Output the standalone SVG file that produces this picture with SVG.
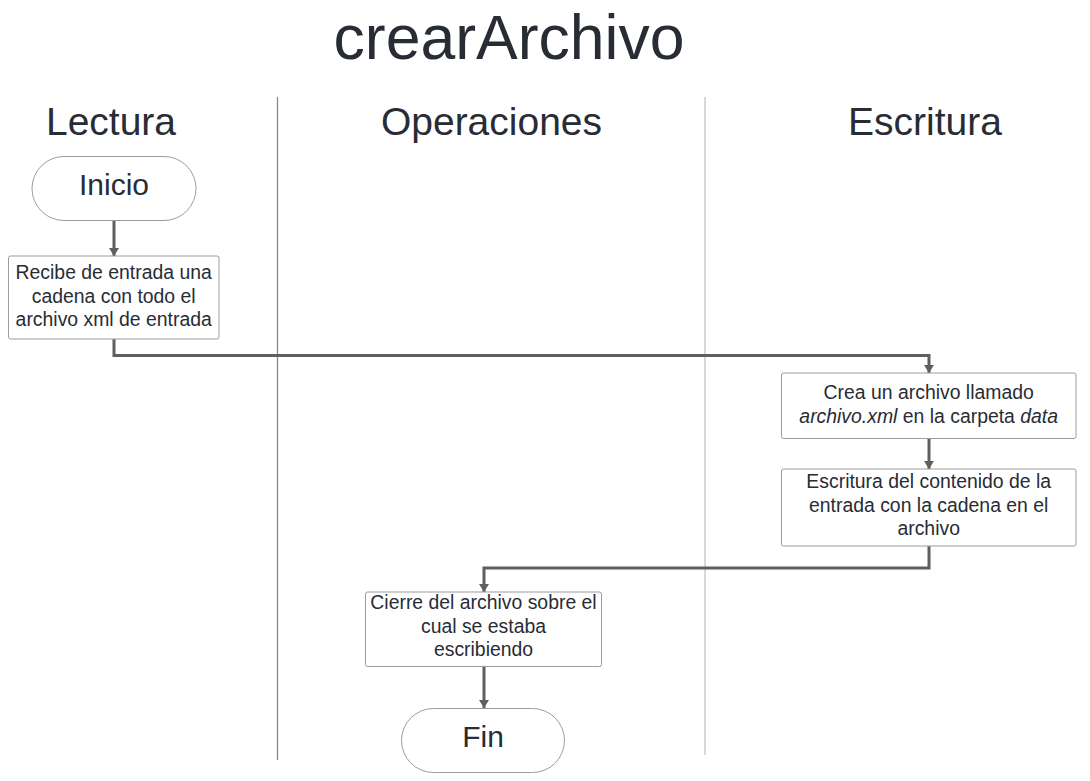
<svg xmlns="http://www.w3.org/2000/svg" width="1090" height="781" viewBox="0 0 1090 781">
<style>
text{font-family:"Liberation Sans",Arial,sans-serif;fill:#282c35;text-anchor:middle}
.title{font-size:62.5px}
.lane{font-size:39px}
.term{font-size:30px}
.body{font-size:19.4px}
.box{fill:#fff;stroke:#9c9c9c;stroke-width:1}
.conn{fill:none;stroke:#5f5f5f;stroke-width:3}
</style>
<defs>
<marker id="arr" viewBox="0 0 8 10" refX="8" refY="5" markerWidth="8" markerHeight="10" markerUnits="userSpaceOnUse" orient="auto">
<path d="M0,0 L8,5 L0,10 z" fill="#5f5f5f"/>
</marker>
</defs>
<rect width="1090" height="781" fill="#fff"/>
<g id="title"><text class="title" x="509" y="59">crearArchivo</text></g>
<g id="lanes">
<line x1="277.5" y1="97" x2="277.5" y2="760" stroke="#8a8a8a" stroke-width="1.3"/>
<line x1="705" y1="97" x2="705" y2="755" stroke="#c4c4c4" stroke-width="1.3"/>
<text class="lane" x="111" y="135">Lectura</text>
<text class="lane" x="491.5" y="135">Operaciones</text>
<text class="lane" x="925" y="135">Escritura</text>
</g>
<g id="connectors">
<path class="conn" d="M114,221 V256" marker-end="url(#arr)"/>
<path class="conn" d="M114,339 V355.5 H929 V373" marker-end="url(#arr)"/>
<path class="conn" d="M929,439 V469" marker-end="url(#arr)"/>
<path class="conn" d="M929,546 V568 H484 V592" marker-end="url(#arr)"/>
<path class="conn" d="M484,667 V708" marker-end="url(#arr)"/>
</g>
<g id="inicio">
<rect class="box" x="32" y="156.5" width="164" height="64" rx="32" ry="32"/>
<text class="term" x="114" y="194.5">Inicio</text>
</g>
<g id="recibe">
<rect class="box" x="8.5" y="256" width="210.5" height="83" rx="2"/>
<text class="body" x="113.7" y="279">Recibe de entrada una</text>
<text class="body" x="113.7" y="302.5">cadena con todo el</text>
<text class="body" x="113.7" y="326">archivo xml de entrada</text>
</g>
<g id="crea">
<rect class="box" x="781.5" y="373" width="294.5" height="65.5" rx="2"/>
<text class="body" x="928.7" y="399">Crea un archivo llamado</text>
<text class="body" x="928.7" y="422.5"><tspan font-style="italic">archivo.xml</tspan> en la carpeta <tspan font-style="italic">data</tspan></text>
</g>
<g id="escritura">
<rect class="box" x="781.5" y="469" width="294.5" height="77" rx="2"/>
<text class="body" x="928.7" y="488">Escritura del contenido de la</text>
<text class="body" x="928.7" y="511.5">entrada con la cadena en el</text>
<text class="body" x="928.7" y="535">archivo</text>
</g>
<g id="cierre">
<rect class="box" x="365.5" y="592" width="236" height="74.5" rx="2"/>
<text class="body" x="483.5" y="609">Cierre del archivo sobre el</text>
<text class="body" x="483.5" y="632.5">cual se estaba</text>
<text class="body" x="483.5" y="656">escribiendo</text>
</g>
<g id="fin">
<rect class="box" x="401.5" y="708.5" width="163" height="64" rx="32" ry="32"/>
<text class="term" x="483" y="747">Fin</text>
</g>
</svg>
